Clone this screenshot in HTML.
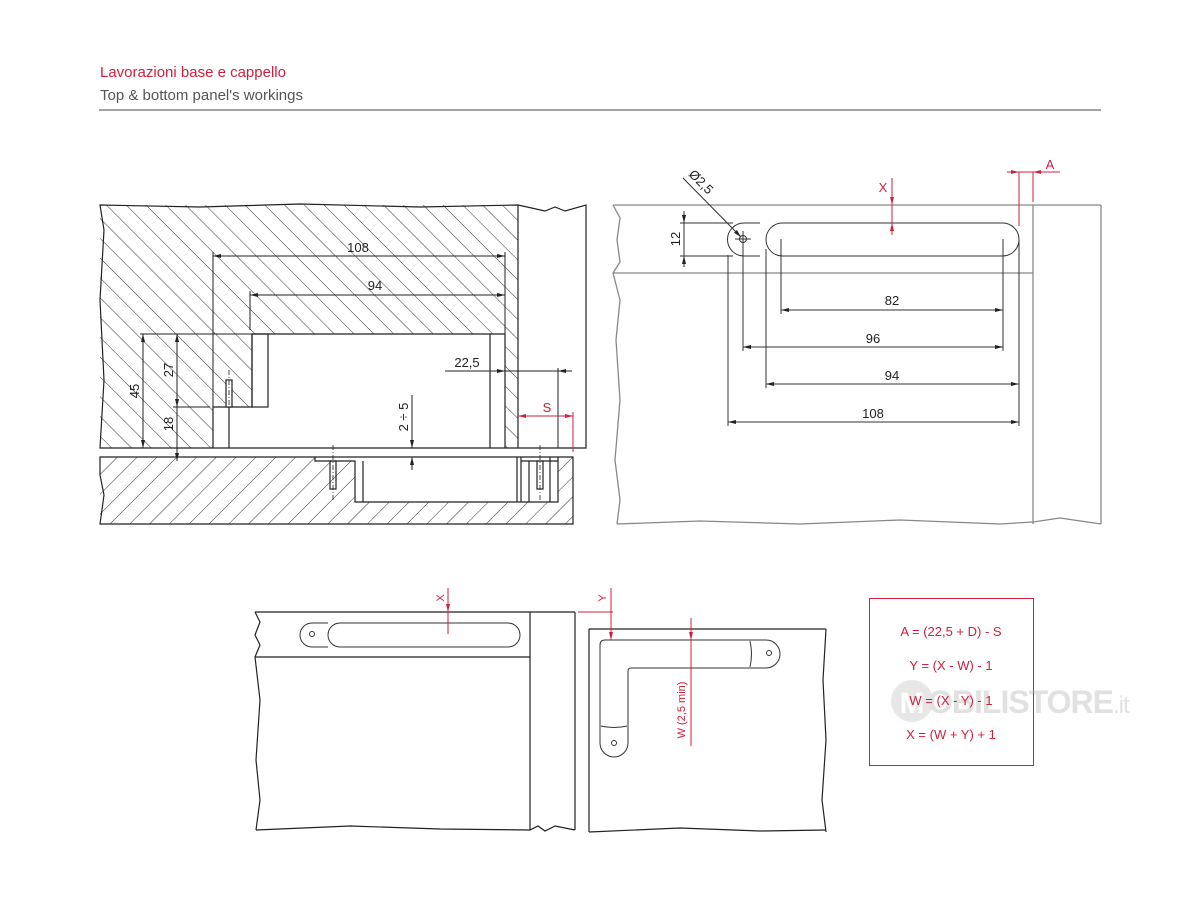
<!DOCTYPE html>
<html><head><meta charset="utf-8"><style>
html,body{margin:0;padding:0;background:#fff;}
svg{display:block;font-family:"Liberation Sans",sans-serif;}
</style></head><body>
<svg width="1200" height="900" viewBox="0 0 1200 900" xmlns="http://www.w3.org/2000/svg">
<defs>
<pattern id="hb" patternUnits="userSpaceOnUse" width="14" height="14" patternTransform="rotate(-45)"><line x1="0" y1="0" x2="0" y2="14" stroke="#333" stroke-width="1"/></pattern>
<pattern id="hf" patternUnits="userSpaceOnUse" width="14" height="14" patternTransform="rotate(45)"><line x1="0" y1="0" x2="0" y2="14" stroke="#333" stroke-width="1"/></pattern>
<marker id="ar" markerWidth="8" markerHeight="6" refX="8" refY="3" orient="auto-start-reverse" markerUnits="userSpaceOnUse"><path d="M0,1 L8,3 L0,5 z" fill="#222"/></marker>
<marker id="rr" markerWidth="8" markerHeight="6" refX="8" refY="3" orient="auto-start-reverse" markerUnits="userSpaceOnUse"><path d="M0,1 L8,3 L0,5 z" fill="#d0203c"/></marker>
</defs>
<!-- header -->
<text x="100" y="77" font-size="15" fill="#d0203c">Lavorazioni base e cappello</text>
<text x="100" y="100" font-size="15" fill="#555">Top &amp; bottom panel's workings</text>
<line x1="99" y1="110" x2="1101" y2="110" stroke="#444" stroke-width="1"/>

<!-- LEFT DRAWING -->
<g stroke="#222" stroke-width="1.2" fill="none">
<path d="M100,205 L518,205 L518,448 L100,448 Z M213,448 L213,407 L252,407 L252,334 L505,334 L505,448 Z" fill="url(#hb)" fill-rule="evenodd" stroke="none"/>
<path d="M100,205 L200,207 L300,204 L420,207 L518,205 L518,448 L100,448 L104,380 L100,300 L104,230 Z" />
<path d="M518,205 L545,211 L555,207 L565,211 L586,205 L586,448 L518,448"/>
<path d="M213,448 L213,407 L252,407 L252,334 L505,334 L505,448"/>
<rect x="252" y="334" width="16" height="73"/>
<line x1="229" y1="407" x2="229" y2="448"/>
<line x1="490" y1="334" x2="490" y2="448"/>
<rect x="226" y="380" width="6" height="27" fill="#fff"/>
<line x1="229" y1="370" x2="229" y2="407" stroke-dasharray="5,2,1,2" stroke-width="0.8"/>
<!-- bottom panel -->
<path d="M100,457 L573,457 L573,524 L100,524 Z M315,457 L315,461 L355,461 L355,502 L558,502 L558,457 Z" fill="url(#hf)" fill-rule="evenodd" stroke="none"/>
<path d="M100,457 L573,457 L573,524 L100,524 L104,495 L100,475 Z"/>
<path d="M315,457 L315,461 L355,461 L355,502 L558,502 L558,457"/>
<line x1="363" y1="461" x2="363" y2="502"/>
<line x1="517" y1="457" x2="517" y2="502"/>
<line x1="521" y1="457" x2="521" y2="502"/>
<line x1="529" y1="461" x2="529" y2="502"/>
<line x1="550" y1="457" x2="550" y2="502"/>
<line x1="521" y1="461" x2="558" y2="461"/>
<rect x="330" y="461" width="6" height="28"/>
<rect x="537" y="461" width="6" height="28"/>
<line x1="333" y1="445" x2="333" y2="500" stroke-dasharray="5,2,1,2" stroke-width="0.8"/>
<line x1="540" y1="445" x2="540" y2="500" stroke-dasharray="5,2,1,2" stroke-width="0.8"/>
</g>
<g stroke="#222" stroke-width="1" fill="none">
<line x1="213" y1="256" x2="505" y2="256" marker-start="url(#ar)" marker-end="url(#ar)"/>
<line x1="213" y1="252" x2="213" y2="407"/>
<line x1="505" y1="252" x2="505" y2="334"/>
<line x1="250" y1="295" x2="505" y2="295" marker-start="url(#ar)" marker-end="url(#ar)"/>
<line x1="250" y1="291" x2="250" y2="330"/>
<line x1="140" y1="334" x2="252" y2="334"/>
<line x1="143" y1="334" x2="143" y2="448" marker-start="url(#ar)" marker-end="url(#ar)"/>
<line x1="177" y1="334" x2="177" y2="407" marker-start="url(#ar)" marker-end="url(#ar)"/>
<line x1="177" y1="407" x2="177" y2="461" marker-end="url(#ar)"/>
<line x1="173" y1="407" x2="210" y2="407"/>
<line x1="445" y1="371" x2="505" y2="371" marker-end="url(#ar)"/>
<line x1="505" y1="371" x2="572" y2="371"/>
<line x1="572" y1="371" x2="558" y2="371" marker-end="url(#ar)"/>
<line x1="558" y1="368" x2="558" y2="448"/>
<line x1="412" y1="395" x2="412" y2="448" marker-end="url(#ar)"/>
<line x1="412" y1="470" x2="412" y2="457" marker-end="url(#ar)"/>
</g>
<g stroke="#d0203c" stroke-width="1" fill="none">
<line x1="518" y1="416" x2="573" y2="416" marker-start="url(#rr)" marker-end="url(#rr)"/>
<line x1="573" y1="412" x2="573" y2="452"/>
</g>
<g font-size="13" fill="#222">
<text x="358" y="252" text-anchor="middle">108</text>
<text x="375" y="290" text-anchor="middle">94</text>
<text x="467" y="367" text-anchor="middle">22,5</text>
<text transform="translate(139,391) rotate(-90)" text-anchor="middle">45</text>
<text transform="translate(173,370) rotate(-90)" text-anchor="middle">27</text>
<text transform="translate(173,424) rotate(-90)" text-anchor="middle">18</text>
<text transform="translate(408,417) rotate(-90)" text-anchor="middle">2 ÷ 5</text>
<text x="547" y="412" text-anchor="middle" fill="#d0203c">S</text>
</g>

<!-- RIGHT TOP DRAWING -->
<g stroke="#888" stroke-width="1.3" fill="none">
<line x1="613" y1="205" x2="1101" y2="205"/>
<line x1="613" y1="273" x2="1033" y2="273"/>
<line x1="1033" y1="205" x2="1033" y2="524"/>
<line x1="1101" y1="205" x2="1101" y2="524"/>
<path d="M613,205 L620,218 L617,240 L620,262 L613,273 L620,300 L616,340 L620,400 L615,460 L620,500 L617,524"/>
<path d="M617,524 L700,521 L800,524 L900,520 L1000,524 L1033,522 L1060,518 L1101,524"/>
</g>
<g stroke="#333" stroke-width="1" fill="none">
<path d="M760,223 L744,223 A16.5,16.5 0 0 0 744,256 L760,256"/>
<rect x="766" y="223" width="253" height="33" rx="16.5"/>
<circle cx="743" cy="239" r="3.5"/>
<line x1="735" y1="239" x2="751" y2="239"/><line x1="743" y1="231" x2="743" y2="247"/>
<line x1="683" y1="178" x2="741" y2="237" marker-end="url(#ar)"/>
<line x1="680" y1="223" x2="733" y2="223"/><line x1="680" y1="256" x2="733" y2="256"/>
<line x1="684" y1="211" x2="684" y2="223" marker-end="url(#ar)"/>
<line x1="684" y1="267" x2="684" y2="256" marker-end="url(#ar)"/>
<line x1="684" y1="223" x2="684" y2="256"/>
<line x1="781" y1="239" x2="781" y2="314"/>
<line x1="1003" y1="239" x2="1003" y2="351"/>
<line x1="743" y1="247" x2="743" y2="351"/>
<line x1="766" y1="249" x2="766" y2="388"/>
<line x1="728" y1="255" x2="728" y2="426"/>
<line x1="1019" y1="240" x2="1019" y2="426"/>
<line x1="781" y1="310" x2="1003" y2="310" marker-start="url(#ar)" marker-end="url(#ar)"/>
<line x1="743" y1="347" x2="1003" y2="347" marker-start="url(#ar)" marker-end="url(#ar)"/>
<line x1="766" y1="384" x2="1019" y2="384" marker-start="url(#ar)" marker-end="url(#ar)"/>
<line x1="728" y1="422" x2="1019" y2="422" marker-start="url(#ar)" marker-end="url(#ar)"/>
</g>
<g stroke="#d0203c" stroke-width="1" fill="none">
<line x1="892" y1="178" x2="892" y2="205" marker-end="url(#rr)"/>
<line x1="892" y1="235" x2="892" y2="223" marker-end="url(#rr)"/>
<line x1="892" y1="205" x2="892" y2="223"/>
<line x1="1007" y1="172" x2="1019" y2="172" marker-end="url(#rr)"/>
<line x1="1060" y1="172" x2="1033" y2="172" marker-end="url(#rr)"/>
<line x1="1019" y1="172" x2="1033" y2="172"/>
<line x1="1019" y1="172" x2="1019" y2="226"/>
<line x1="1033" y1="172" x2="1033" y2="202"/>
</g>
<g font-size="13" fill="#222">
<text x="892" y="305" text-anchor="middle">82</text>
<text x="873" y="343" text-anchor="middle">96</text>
<text x="892" y="380" text-anchor="middle">94</text>
<text x="873" y="418" text-anchor="middle">108</text>
<text transform="translate(680,239) rotate(-90)" text-anchor="middle">12</text>
<text transform="translate(698,185) rotate(45)" text-anchor="middle">Ø2,5</text>
<text x="883" y="192" text-anchor="middle" fill="#d0203c">X</text>
<text x="1050" y="169" text-anchor="middle" fill="#d0203c">A</text>
</g>

<!-- BOTTOM LEFT DRAWING -->
<g stroke="#222" stroke-width="1.2" fill="none">
<line x1="255" y1="612" x2="575" y2="612"/>
<line x1="255" y1="657" x2="530" y2="657"/>
<line x1="530" y1="612" x2="530" y2="830"/>
<line x1="575" y1="612" x2="575" y2="830"/>
<path d="M255,612 L260,622 L255,635 L260,645 L255,657 L260,700 L256,760 L260,800 L256,830"/>
<path d="M256,830 L350,826 L440,829 L530,830 L538,826 L545,831 L555,826 L575,830"/>
</g>
<g stroke="#333" stroke-width="1" fill="none">
<path d="M328,623 L312,623 A12,12 0 0 0 312,647 L328,647"/>
<rect x="328" y="623" width="192" height="24" rx="12"/>
<circle cx="312" cy="634" r="2.5"/>
</g>
<g stroke="#d0203c" stroke-width="1" fill="none">
<line x1="448" y1="588" x2="448" y2="612" marker-end="url(#rr)"/>
<line x1="448" y1="634" x2="448" y2="612"/>
</g>
<text transform="translate(444,598) rotate(-90)" text-anchor="middle" font-size="11" fill="#d0203c">X</text>

<!-- BOTTOM RIGHT DRAWING -->
<g stroke="#222" stroke-width="1.2" fill="none">
<line x1="589" y1="629" x2="826" y2="629"/>
<line x1="589" y1="629" x2="589" y2="832"/>
<path d="M826,629 L823,680 L826,740 L822,800 L826,832"/>
<path d="M589,832 L680,828 L760,831 L826,830"/>
</g>
<g stroke="#333" stroke-width="1" fill="none">
<path d="M605,640 L766,640 A14,14 0 0 1 766,668 L631,668 Q628,668 628,671 L628,743 A14,14 0 0 1 600,743 L600,645 Q600,640 605,640 Z"/>
<path d="M750,641 Q753,654 750,667"/>
<path d="M601,726 Q614,729 627,726"/>
<circle cx="769" cy="653" r="2.5"/>
<circle cx="614" cy="743" r="2.5"/>
</g>
<g stroke="#d0203c" stroke-width="1" fill="none">
<line x1="578" y1="612" x2="613" y2="612"/>
<line x1="611" y1="588" x2="611" y2="612"/>
<line x1="611" y1="612" x2="611" y2="640" marker-end="url(#rr)"/>
<line x1="691" y1="618" x2="691" y2="640" marker-end="url(#rr)"/>
<line x1="691" y1="640" x2="691" y2="746"/>
</g>
<text transform="translate(606,598) rotate(-90)" text-anchor="middle" font-size="11" fill="#d0203c">Y</text>
<text transform="translate(685,710) rotate(-90)" text-anchor="middle" font-size="11" fill="#d0203c">W (2,5 min)</text>

<!-- FORMULA BOX -->
<rect x="869.5" y="598.5" width="164" height="167" fill="none" stroke="#d0203c" stroke-width="1"/>
<g opacity="0.35">
<circle cx="912" cy="701" r="21" fill="#bbb"/>
<text x="912" y="713" text-anchor="middle" font-size="30" font-weight="bold" fill="#fff">M</text>
<text x="928" y="713" font-size="32" font-weight="bold" fill="#aaa" letter-spacing="-1">OBILISTORE<tspan font-size="24" font-weight="normal">.it</tspan></text>
</g>
<g font-size="13" fill="#d0203c" text-anchor="middle">
<text x="951" y="636">A = (22,5 + D) - S</text>
<text x="951" y="670">Y = (X - W) - 1</text>
<text x="951" y="705">W = (X - Y) - 1</text>
<text x="951" y="739">X = (W + Y) + 1</text>
</g>
</svg>
</body></html>
